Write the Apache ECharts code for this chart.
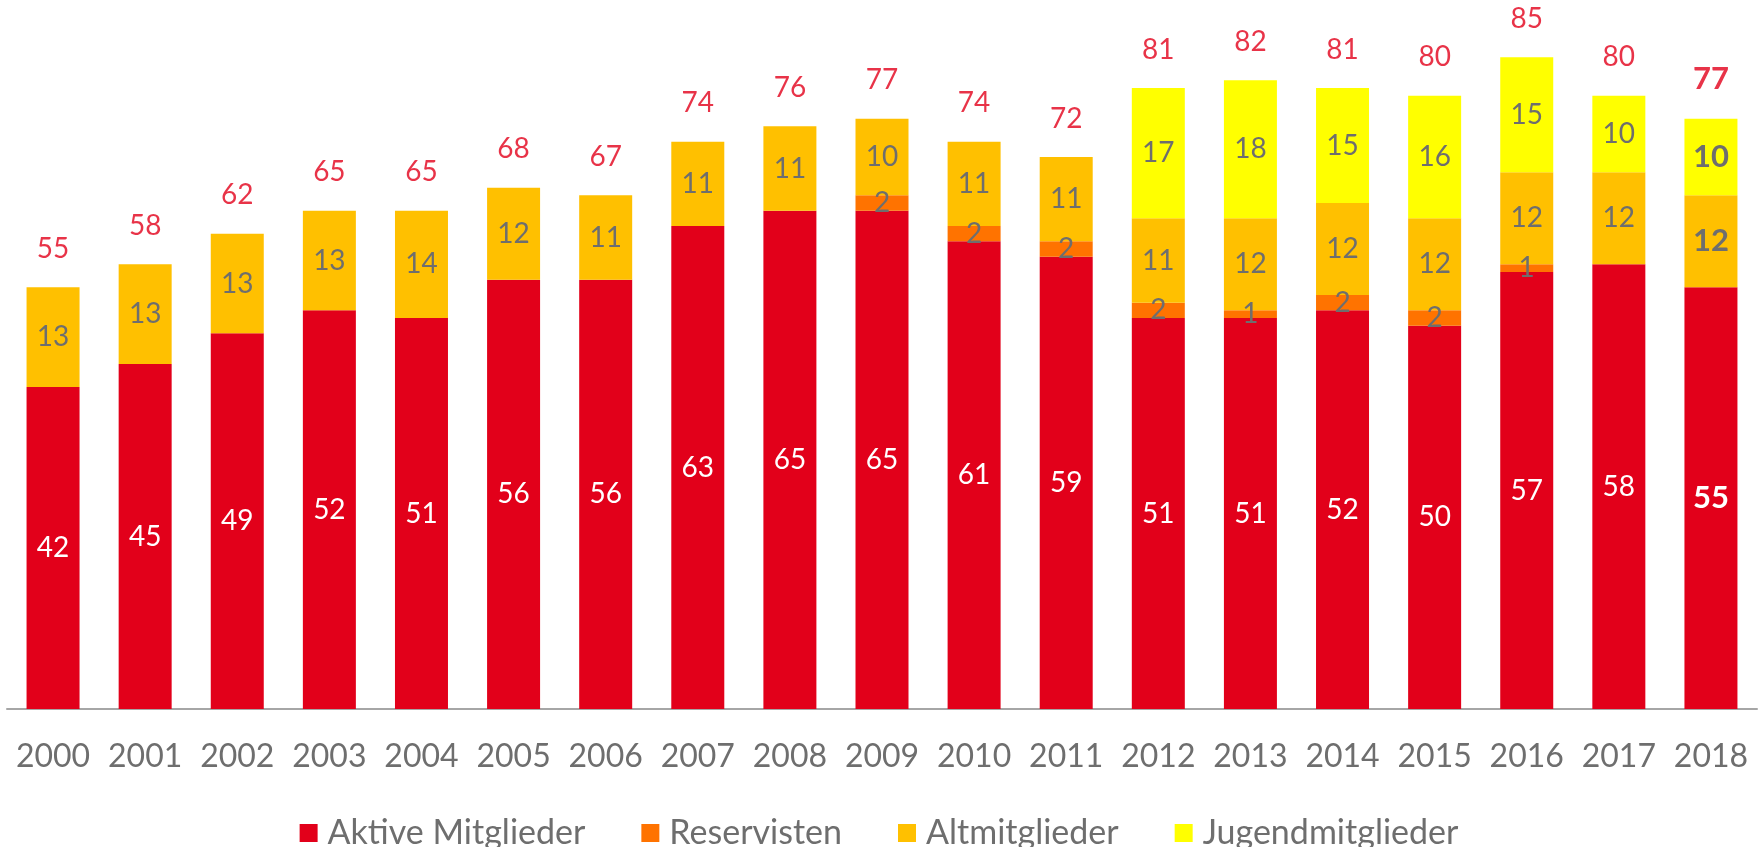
<!DOCTYPE html>
<html>
<head>
<meta charset="utf-8">
<script src="https://cdn.jsdelivr.net/npm/echarts@6/dist/echarts.min.js"></script>
<style>
html,body{margin:0;padding:0;background:#fff;}
#chart{width:1758px;height:847px;}
</style>
</head>
<body>
<div id="chart"></div>
<script>
const years = ['2000','2001','2002','2003','2004','2005','2006','2007','2008','2009','2010','2011','2012','2013','2014','2015','2016','2017','2018'];
const aktive = [42,45,49,52,51,56,56,63,65,65,61,59,51,51,52,50,57,58,55];
const reservisten = [0,0,0,0,0,0,0,0,0,2,2,2,2,1,2,2,1,0,0];
const altmitglieder = [13,13,13,13,14,12,11,11,11,10,11,11,11,12,12,12,12,12,12];
const jugend = [0,0,0,0,0,0,0,0,0,0,0,0,17,18,15,16,15,10,10];
const totals = [55,58,62,65,65,68,67,74,76,77,74,72,81,82,81,80,85,80,77];

const FONT = 'Lato';
const GRAY = '#6e6e6e';
const lastIdx = years.length - 1;

function items(arr) {
  return arr.map((v, i) => i === lastIdx
    ? {value: v, label: {fontWeight: 'bold', fontSize: 31}}
    : v);
}
function seg(name, arr, color, labelColor) {
  return {
    name: name, type: 'bar', stack: 'total',
    barWidth: 53,
    itemStyle: {color: color},
    label: {
      show: true, position: 'inside', color: labelColor,
      fontFamily: FONT, fontSize: 28,
      formatter: p => (p.value ? String(p.value) : '')
    },
    data: items(arr)
  };
}

const chart = echarts.init(document.getElementById('chart'));
chart.setOption({
  animation: false,
  backgroundColor: '#ffffff',
  grid: {left: 7, right: 1, top: 19, bottom: 138, containLabel: false},
  legend: {
    data: ['Aktive Mitglieder','Reservisten','Altmitglieder','Jugendmitglieder'],
    left: 'center', top: 811,
    icon: 'rect', itemWidth: 18, itemHeight: 18, itemGap: 56,
    textStyle: {fontFamily: FONT, fontSize: 34, color: GRAY, padding: [0,0,0,5]}
  },
  xAxis: {
    type: 'category', data: years,
    axisLine: {lineStyle: {color: '#a6a6a6', width: 2}},
    axisTick: {show: false},
    axisLabel: {interval: 0, fontFamily: FONT, fontSize: 32, color: GRAY, margin: 32}
  },
  yAxis: {
    type: 'value', min: 0, max: 90, show: false,
    splitLine: {show: false}
  },
  series: [
    seg('Aktive Mitglieder', aktive, '#e2001a', '#ffffff'),
    seg('Reservisten', reservisten, '#ff7300', GRAY),
    seg('Altmitglieder', altmitglieder, '#ffc000', GRAY),
    seg('Jugendmitglieder', jugend, '#ffff00', GRAY),
    {
      name: 'Gesamt', type: 'scatter', symbolSize: 1,
      itemStyle: {color: 'rgba(255,255,255,0)'},
      label: {
        show: true, position: 'top', distance: 24,
        color: '#e2001a', fontFamily: FONT, fontSize: 28
      },
      data: totals.map((v, i) => i === lastIdx
        ? {value: v, label: {fontWeight: 'bold', fontSize: 31}}
        : v),
      z: 10
    }
  ]
});
</script>
</body>
</html>
